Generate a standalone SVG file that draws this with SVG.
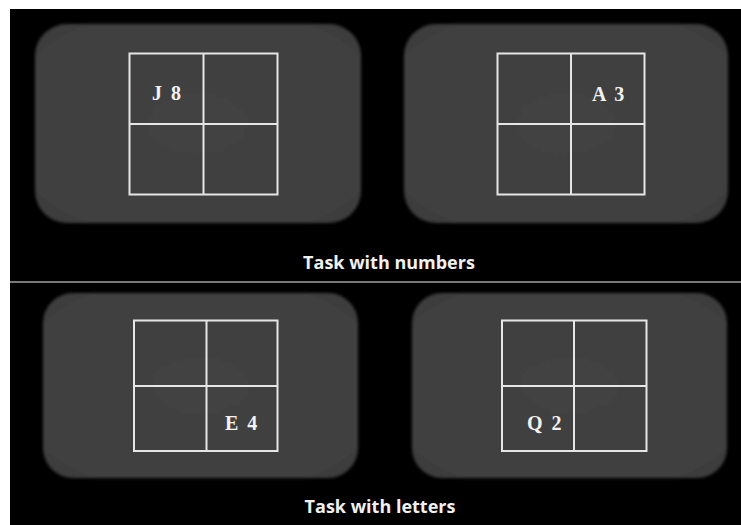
<svg xmlns="http://www.w3.org/2000/svg" width="741" height="525" viewBox="0 0 741 525">
<defs>
<filter id="soft" x="-5%" y="-5%" width="110%" height="110%"><feGaussianBlur stdDeviation="1.5"/></filter>
<radialGradient id="pg" cx="0.5" cy="0.5" r="0.7">
<stop offset="0" stop-color="#424242"/><stop offset="0.85" stop-color="#3f3f3f"/><stop offset="1" stop-color="#383838"/>
</radialGradient>
</defs>
<style>
.panel{fill:url(#pg);filter:url(#soft)}
.grid{fill:none;stroke:#e6e6e6;stroke-width:2}
.cell{font-family:"Liberation Serif",serif;font-weight:bold;font-size:20px;fill:#f2f2f2;word-spacing:4px}
.cap{font-family:"Open Sans","Liberation Sans",sans-serif;font-weight:bold;font-size:18px;fill:#f0f0f0;text-anchor:middle}
</style>
<rect x="0" y="0" width="741" height="525" fill="#ffffff"/>
<rect x="10" y="9" width="731" height="516" fill="#000000"/>
<g id="panel-numbers-1">
<rect class="panel" x="35" y="24" width="326" height="199" rx="32"/>
<rect class="grid" x="129.5" y="53.5" width="148" height="141"/>
<line class="grid" x1="203.5" y1="53.5" x2="203.5" y2="194.5"/>
<line class="grid" x1="129.5" y1="124" x2="277.5" y2="124"/>
<text class="cell" x="152" y="100">J 8</text>
</g>
<g id="panel-numbers-2">
<rect class="panel" x="404" y="24" width="324" height="199" rx="32"/>
<rect class="grid" x="497.5" y="53.5" width="147" height="141"/>
<line class="grid" x1="571" y1="53.5" x2="571" y2="194.5"/>
<line class="grid" x1="497.5" y1="124" x2="644.5" y2="124"/>
<text class="cell" x="592" y="101">A 3</text>
</g>
<text id="caption-numbers" class="cap" x="389" y="269">Task with numbers</text>
<line x1="10" y1="282" x2="741" y2="282" stroke="#777777" stroke-width="2"/>
<g id="panel-letters-1">
<rect class="panel" x="43" y="293" width="315" height="185" rx="30"/>
<rect class="grid" x="134" y="320.5" width="143.5" height="130.5"/>
<line class="grid" x1="206.5" y1="320.5" x2="206.5" y2="451"/>
<line class="grid" x1="134" y1="386" x2="277.5" y2="386"/>
<text class="cell" x="225" y="430">E 4</text>
</g>
<g id="panel-letters-2">
<rect class="panel" x="412" y="293" width="315" height="185" rx="30"/>
<rect class="grid" x="502" y="320.5" width="144.5" height="130.5"/>
<line class="grid" x1="574" y1="320.5" x2="574" y2="451"/>
<line class="grid" x1="502" y1="386" x2="646.5" y2="386"/>
<text class="cell" x="527" y="430">Q 2</text>
</g>
<text id="caption-letters" class="cap" x="380" y="513">Task with letters</text>
</svg>
